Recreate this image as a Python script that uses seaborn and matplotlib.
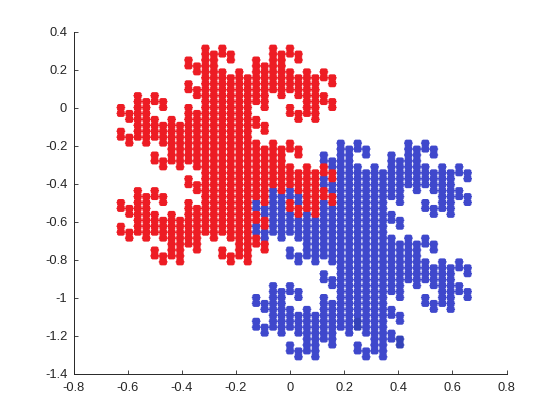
import matplotlib
matplotlib.use("Agg")
import matplotlib.pyplot as plt
from matplotlib.path import Path
import pandas as pd
import seaborn as sns

GRID = 32  # every point sits on a lattice of 1/32 in data units

red_columns = [-20, -19, -18, -17, -16, -15, -14, -13, -12, -11, -10, -9, -8, -7, -6, -5, -4, -3, -2, -1, 0, 1, 2, 3, 4, 5]
red_rows = [
    [0, -1, -4, -5, -16, -17, -20, -21],
    [-1, -2, -5, -6, -17, -18, -21, -22],
    [2, 1, 0, -1, -2, -3, -4, -5, -14, -15, -16, -17, -18, -19, -20, -21],
    [1, 0, -1, -2, -3, -4, -5, -6, -15, -16, -17, -18, -19, -20, -21, -22],
    [2, 1, -2, -3, -4, -5, -8, -9, -14, -15, -18, -19, -20, -21, -24, -25],
    [1, 0, -3, -4, -5, -6, -9, -10, -15, -16, -19, -20, -21, -22, -25, -26],
    [-2, -3, -4, -5, -6, -7, -8, -9, -18, -19, -20, -21, -22, -23, -24, -25],
    [-3, -4, -5, -6, -7, -8, -9, -10, -19, -20, -21, -22, -23, -24, -25, -26],
    [8, 7, 4, 3, 0, -1, -2, -3, -4, -5, -6, -7, -8, -9, -12, -13, -16, -17, -18, -19, -20, -21, -22, -23],
    [7, 6, 3, 2, -1, -2, -3, -4, -5, -6, -7, -8, -9, -10, -13, -14, -17, -18, -19, -20, -21, -22, -23, -24],
    [10, 9, 8, 7, 6, 5, 4, 3, 2, 1, 0, -1, -2, -3, -4, -5, -6, -7, -8, -9, -10, -11, -12, -13, -14, -15, -16, -17, -18, -19, -20, -21],
    [9, 8, 7, 6, 5, 4, 3, 2, 1, 0, -1, -2, -3, -4, -5, -6, -7, -8, -9, -10, -11, -12, -13, -14, -15, -16, -17, -18, -19, -20, -21, -22],
    [10, 9, 6, 5, 4, 3, 2, 1, 0, -1, -2, -3, -4, -5, -6, -7, -8, -9, -10, -11, -12, -13, -14, -15, -16, -17, -18, -19, -20, -21, -24, -25],
    [9, 8, 5, 4, 3, 2, 1, 0, -1, -2, -3, -4, -5, -6, -7, -8, -9, -10, -11, -12, -13, -14, -15, -16, -17, -18, -19, -20, -21, -22, -25, -26],
    [6, 5, 4, 3, 2, 1, 0, -1, -2, -3, -4, -5, -6, -7, -8, -9, -10, -11, -12, -13, -14, -15, -16, -17, -18, -19, -20, -21, -22, -23, -24, -25],
    [5, 4, 3, 2, 1, 0, -1, -2, -3, -4, -5, -6, -7, -8, -9, -10, -11, -12, -13, -14, -15, -16, -17, -18, -19, -20, -21, -22, -23, -24, -25, -26],
    [8, 7, 6, 5, 4, 3, 2, 1, -2, -3, -6, -7, -8, -9, -10, -11, -12, -13, -14, -15, -18, -19, -22, -23],
    [7, 6, 5, 4, 3, 2, 1, 0, -3, -4, -7, -8, -9, -10, -11, -12, -13, -14, -15, -16, -19, -20, -23, -24],
    [10, 9, 8, 7, 6, 5, 4, 3, -6, -7, -8, -9, -10, -11, -12, -13],
    [9, 8, 7, 6, 5, 4, 3, 2, -7, -8, -9, -10, -11, -12, -13, -14],
    [10, 9, 6, 5, 4, 3, 0, -1, -6, -7, -10, -11, -12, -13, -16, -17],
    [9, 8, 5, 4, 3, 2, -1, -2, -7, -8, -11, -12, -13, -14, -17, -18],
    [6, 5, 4, 3, 2, 1, 0, -1, -10, -11, -12, -13, -14, -15, -16, -17],
    [5, 4, 3, 2, 1, 0, -1, -2, -11, -12, -13, -14, -15, -16, -17, -18],
    [6, 5, 2, 1, -10, -11, -14, -15],
    [5, 4, 1, 0, -11, -12, -15, -16],
]

blue_columns = [21, 20, 19, 18, 17, 16, 15, 14, 13, 12, 11, 10, 9, 8, 7, 6, 5, 4, 3, 2, 1, 0, -1, -2, -3, -4]
blue_rows = [
    [-32, -31, -28, -27, -16, -15, -12, -11],
    [-31, -30, -27, -26, -15, -14, -11, -10],
    [-34, -33, -32, -31, -30, -29, -28, -27, -18, -17, -16, -15, -14, -13, -12, -11],
    [-33, -32, -31, -30, -29, -28, -27, -26, -17, -16, -15, -14, -13, -12, -11, -10],
    [-34, -33, -30, -29, -28, -27, -24, -23, -18, -17, -14, -13, -12, -11, -8, -7],
    [-33, -32, -29, -28, -27, -26, -23, -22, -17, -16, -13, -12, -11, -10, -7, -6],
    [-30, -29, -28, -27, -26, -25, -24, -23, -14, -13, -12, -11, -10, -9, -8, -7],
    [-29, -28, -27, -26, -25, -24, -23, -22, -13, -12, -11, -10, -9, -8, -7, -6],
    [-40, -39, -36, -35, -32, -31, -30, -29, -28, -27, -26, -25, -24, -23, -20, -19, -16, -15, -14, -13, -12, -11, -10, -9],
    [-39, -38, -35, -34, -31, -30, -29, -28, -27, -26, -25, -24, -23, -22, -19, -18, -15, -14, -13, -12, -11, -10, -9, -8],
    [-42, -41, -40, -39, -38, -37, -36, -35, -34, -33, -32, -31, -30, -29, -28, -27, -26, -25, -24, -23, -22, -21, -20, -19, -18, -17, -16, -15, -14, -13, -12, -11],
    [-41, -40, -39, -38, -37, -36, -35, -34, -33, -32, -31, -30, -29, -28, -27, -26, -25, -24, -23, -22, -21, -20, -19, -18, -17, -16, -15, -14, -13, -12, -11, -10],
    [-42, -41, -38, -37, -36, -35, -34, -33, -32, -31, -30, -29, -28, -27, -26, -25, -24, -23, -22, -21, -20, -19, -18, -17, -16, -15, -14, -13, -12, -11, -8, -7],
    [-41, -40, -37, -36, -35, -34, -33, -32, -31, -30, -29, -28, -27, -26, -25, -24, -23, -22, -21, -20, -19, -18, -17, -16, -15, -14, -13, -12, -11, -10, -7, -6],
    [-38, -37, -36, -35, -34, -33, -32, -31, -30, -29, -28, -27, -26, -25, -24, -23, -22, -21, -20, -19, -18, -17, -16, -15, -14, -13, -12, -11, -10, -9, -8, -7],
    [-37, -36, -35, -34, -33, -32, -31, -30, -29, -28, -27, -26, -25, -24, -23, -22, -21, -20, -19, -18, -17, -16, -15, -14, -13, -12, -11, -10, -9, -8, -7, -6],
    [-40, -39, -38, -37, -36, -35, -34, -33, -30, -29, -26, -25, -24, -23, -22, -21, -20, -19, -18, -17, -14, -13, -10, -9],
    [-39, -38, -37, -36, -35, -34, -33, -32, -29, -28, -25, -24, -23, -22, -21, -20, -19, -18, -17, -16, -13, -12, -9, -8],
    [-42, -41, -40, -39, -38, -37, -36, -35, -26, -25, -24, -23, -22, -21, -20, -19],
    [-41, -40, -39, -38, -37, -36, -35, -34, -25, -24, -23, -22, -21, -20, -19, -18],
    [-42, -41, -38, -37, -36, -35, -32, -31, -26, -25, -22, -21, -20, -19, -16, -15],
    [-41, -40, -37, -36, -35, -34, -31, -30, -25, -24, -21, -20, -19, -18, -15, -14],
    [-38, -37, -36, -35, -34, -33, -32, -31, -22, -21, -20, -19, -18, -17, -16, -15],
    [-37, -36, -35, -34, -33, -32, -31, -30, -21, -20, -19, -18, -17, -16, -15, -14],
    [-38, -37, -34, -33, -22, -21, -18, -17],
    [-37, -36, -33, -32, -21, -20, -17, -16],
]

# A few points in the reference are a shade darker than the rest of the blue set.
dark_columns = [13, 13, 8, 8]
dark_rows = [-39, -40, -36, -37]

x_ticks = [-0.8, -0.6, -0.4, -0.2, 0, 0.2, 0.4, 0.6, 0.8]
x_labels = ["-0.8", "-0.6", "-0.4", "-0.2", "0", "0.2", "0.4", "0.6", "0.8"]
y_ticks = [-1.4, -1.2, -1, -0.8, -0.6, -0.4, -0.2, 0, 0.2, 0.4]
y_labels = ["-1.4", "-1.2", "-1", "-0.8", "-0.6", "-0.4", "-0.2", "0", "0.2", "0.4"]

RED = "#ed1c24"
BLUE = "#3f48cc"
DARK = "#3442b8"
INK = "#262626"

# Squarish dot with cut corners and small side nubs, as the reference's aliased markers look.
dot = Path([(-2.4, 3.5), (2.4, 3.5), (3.8, 2.4), (3.8, 0.7), (4.4, 0.7), (4.4, -0.7), (3.8, -0.7), (3.8, -2.4),
            (2.4, -3.5), (-2.4, -3.5), (-3.8, -2.4), (-3.8, -0.7), (-4.4, -0.7), (-4.4, 0.7), (-3.8, 0.7),
            (-3.8, 2.4), (-2.4, 3.5)], closed=True)

records = []
for col, rows in zip(blue_columns, blue_rows):
    for row in rows:
        if (col, row) not in zip(dark_columns, dark_rows):
            records.append(("blue", col / GRID, row / GRID))
for col, row in zip(dark_columns, dark_rows):
    records.append(("dark", col / GRID, row / GRID))
for col, rows in zip(red_columns, red_rows):
    for row in rows:
        records.append(("red", col / GRID, row / GRID))
df = pd.DataFrame(records, columns=["tile", "x", "y"])

sns.set_theme(style="ticks")
plt.rcParams["font.family"] = ["Liberation Sans", "DejaVu Sans"]
plt.rcParams["axes.unicode_minus"] = False

fig = plt.figure(figsize=(5.6, 4.2), dpi=100)
ax = fig.add_axes([73.5 / 560, (420 - 373.5) / 420, 433 / 560, 342 / 420])
sns.scatterplot(
    data=df, x="x", y="y", hue="tile",
    palette={"red": RED, "blue": BLUE, "dark": DARK},
    marker=dot, s=40, linewidth=0, legend=False, ax=ax, clip_on=False,
)

ax.set_xlim(-0.8, 0.8)
ax.set_ylim(-1.4, 0.4)
ax.set_xticks(x_ticks, x_labels)
ax.set_yticks(y_ticks, y_labels)
ax.set_xlabel("")
ax.set_ylabel("")
ax.tick_params(direction="in", length=3, width=0.6, color=INK, labelcolor=INK,
               labelsize=9.3)
ax.tick_params(axis="x", pad=6)
ax.tick_params(axis="y", pad=4.5)
sns.despine(ax=ax)
for side in ("left", "bottom"):
    ax.spines[side].set_linewidth(0.7)
    ax.spines[side].set_color(INK)

fig.savefig("out.png", dpi=100)
